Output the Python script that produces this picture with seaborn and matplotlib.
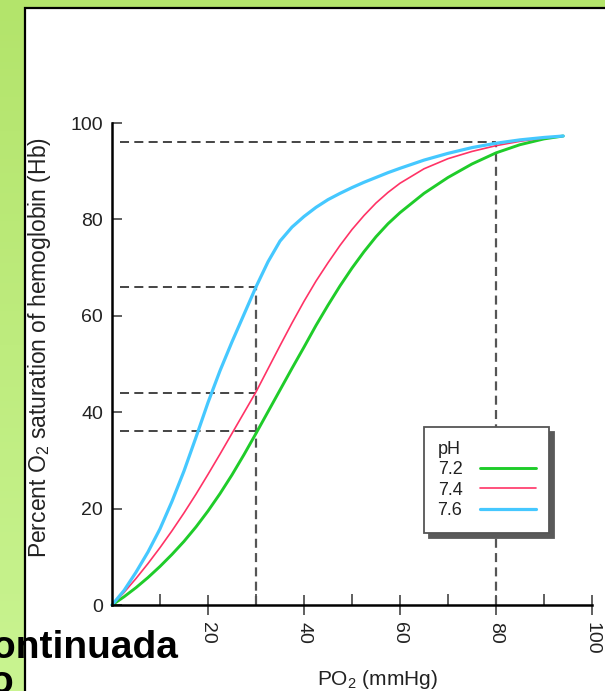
import numpy as np
import matplotlib
matplotlib.use("Agg")
import matplotlib.pyplot as plt
import seaborn as sns
from matplotlib.patches import Rectangle
from matplotlib.colors import LinearSegmentedColormap

# oxygen dissociation curves
po2 = [0, 2.5, 5, 7.5, 10, 12.5, 15, 17.5, 20, 22.5, 25, 27.5, 30, 32.5, 35,
       37.5, 40, 42.5, 45, 47.5, 50, 52.5, 55, 57.5, 60, 65, 70, 75, 80, 85, 90, 94]
sat_72 = [0, 1.7, 3.6, 5.7, 8.0, 10.5, 13.2, 16.2, 19.5, 23.1, 27.0, 31.2, 35.6,
          40.1, 44.6, 49.1, 53.5, 58.0, 62.2, 66.2, 69.9, 73.3, 76.4, 79.1, 81.4,
          85.4, 88.7, 91.5, 93.8, 95.5, 96.7, 97.3]
sat_74 = [0, 2.6, 5.5, 8.6, 11.9, 15.4, 19.1, 23.0, 27.1, 31.3, 35.6, 39.9, 44.2,
          49.0, 53.8, 58.5, 63.0, 67.2, 71.0, 74.6, 77.9, 80.8, 83.4, 85.6, 87.5,
          90.5, 92.6, 94.1, 95.3, 96.2, 96.9, 97.3]
sat_76 = [0, 3.0, 6.8, 11.0, 15.8, 21.5, 27.8, 34.8, 42.0, 48.6, 54.6, 60.3, 66.0,
          71.2, 75.5, 78.4, 80.6, 82.5, 84.1, 85.4, 86.6, 87.7, 88.7, 89.7, 90.6,
          92.3, 93.7, 94.9, 95.8, 96.5, 97.0, 97.3]
ph_labels = ["7.2", "7.4", "7.6"]

# dashed guide lines (PO2, saturation)
ref_po2 = [30, 30, 30, 80]
ref_sat = [66, 44, 36, 96]

x_ticks = [20, 40, 60, 80, 100]
x_minor = [10, 30, 50, 70, 90]
y_ticks = [0, 20, 40, 60, 80, 100]

colors = {"7.2": "#1fcc2a", "7.4": "#ff3366", "7.6": "#45c8ff"}
widths = {"7.2": 2.1, "7.4": 1.2, "7.6": 2.3}

sns.set_style("ticks")
plt.rcParams["font.family"] = ["Liberation Sans", "DejaVu Sans"]
plt.rcParams["mathtext.fontset"] = "custom"
plt.rcParams["mathtext.rm"] = "Liberation Sans"
plt.rcParams["mathtext.it"] = "Liberation Sans:italic"
plt.rcParams["lines.scale_dashes"] = False

fig = plt.figure(figsize=(6.05, 6.91), dpi=100)

# slide background: green gradient and white panel
bg = fig.add_axes([0, 0, 1, 1], zorder=-10)
cmap = LinearSegmentedColormap.from_list("bg", ["#b3e46b", "#c9f491"])
bg.imshow(np.linspace(0, 1, 100).reshape(-1, 1), cmap=cmap, aspect="auto",
          extent=[0, 1, 0, 1])
bg.add_patch(Rectangle((25 / 605, -0.05), 1.0, (691 - 8) / 691 + 0.05,
                       facecolor="white", edgecolor="black", lw=1.6,
                       transform=bg.transAxes))
bg.set_xlim(0, 1)
bg.set_ylim(0, 1)
bg.axis("off")

ax = fig.add_axes([112 / 605, 86 / 691, 480 / 605, 482 / 691])
ax.patch.set_alpha(0)

# guides
for p, s in zip(ref_po2, ref_sat):
    ax.hlines(s, 1.7, p, colors="#444444", linestyles=(0, (6.5, 3.8)), lw=1.4)
ax.vlines([30, 80], 0, [66, 96], colors="#555555", linestyles=(0, (6.5, 3.8)), lw=1.6)

for lab, vals in zip(ph_labels, [sat_72, sat_74, sat_76]):
    sns.lineplot(x=po2, y=vals, color=colors[lab], lw=widths[lab], ax=ax,
                 label=lab, clip_on=False)

ax.set_xlim(0, 100)
ax.set_ylim(0, 100)
ax.set_xticks(x_ticks)
ax.set_xticks(x_minor, minor=True)
ax.set_yticks(y_ticks)
ax.tick_params(axis="x", which="major", direction="inout", length=14, width=1.2,
               color="#444444", labelrotation=270, pad=5, labelsize=14,
               labelcolor="#222222")
ax.tick_params(axis="x", which="minor", direction="in", length=8, width=1.2,
               color="#444444")
ax.tick_params(axis="y", direction="in", length=7.5, width=1.2, color="#444444",
               pad=6.5, labelsize=14, labelcolor="#222222")
for side in ["top", "right"]:
    ax.spines[side].set_visible(False)
for side in ["left", "bottom"]:
    ax.spines[side].set_linewidth(1.8)
    ax.spines[side].set_color("black")

ax.set_xlabel("PO$_2$ (mmHg)", fontsize=15, color="#222222")
ax.xaxis.set_label_coords(0.552, -0.131)
ax.set_ylabel("Percent O$_2$ saturation of hemoglobin (Hb)", fontsize=16.5,
              color="#222222")
ax.yaxis.set_label_coords(-0.122, 0.535)

leg = ax.legend(title="pH", loc="upper left",
                bbox_to_anchor=((424 - 112) / 480, (605 - 427) / 482),
                borderaxespad=0, markerfirst=False, frameon=True, fancybox=False,
                shadow={"ox": 3.5, "oy": -3.5, "color": "#5a5a5a", "alpha": 1},
                edgecolor="#555555", fontsize=13, title_fontsize=13,
                alignment="left", handlelength=3.1, handletextpad=0.95,
                borderpad=0.75, labelspacing=0.2)
leg.get_frame().set_linewidth(1.3)
leg.get_frame().set_alpha(1)
for t in leg.get_texts():
    t.set_color("#222222")
leg.get_title().set_color("#222222")

fig.text(178 / 605, (691 - 658) / 691, "Continuada", ha="right", va="baseline",
         fontsize=28, fontweight="bold", color="black")
fig.text(13 / 605, (691 - 693) / 691, "o", ha="right", va="baseline",
         fontsize=28, fontweight="bold", color="black")

fig.savefig("out.png", dpi=100)
plt.close()
